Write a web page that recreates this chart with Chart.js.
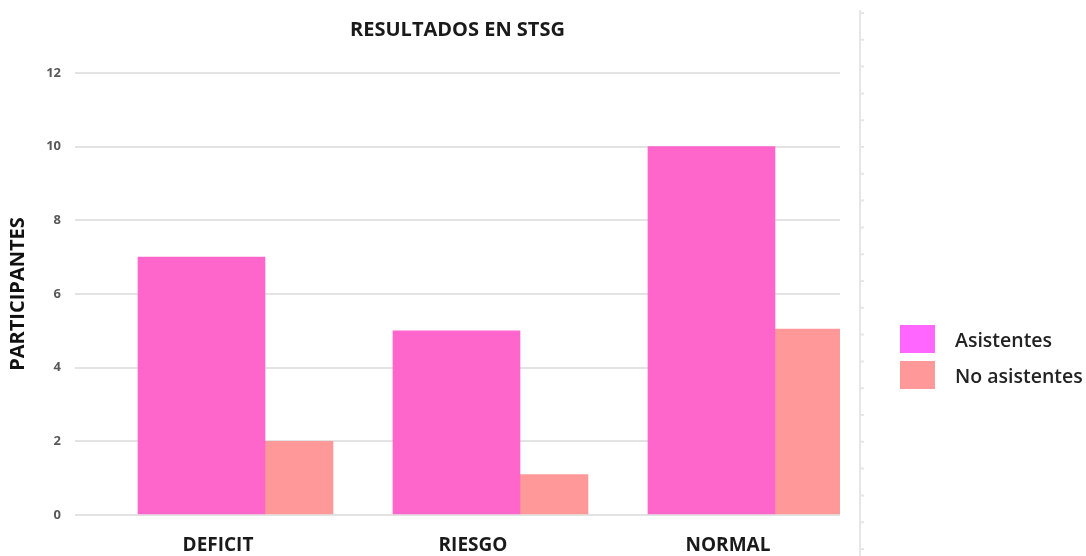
<!DOCTYPE html>
<html>
<head>
<meta charset="utf-8">
<script src="https://cdn.jsdelivr.net/npm/chart.js@4/dist/chart.umd.min.js"></script>
<style>
  body { margin: 0; background: #fff; }
  #wrap { position: relative; width: 1086px; height: 556px; }
  .legend { position: absolute; left: 900px; top: 325px; font-family: 'Open Sans', sans-serif; font-size: 19.5px; font-weight: 600; color: #222; white-space: nowrap; }
  .legend div { display: flex; align-items: center; height: 28px; margin-bottom: 8px; }
  .legend span.box { display: inline-block; flex: none; width: 35px; height: 28px; margin-right: 20px; }
</style>
</head>
<body>
<div id="wrap">
  <canvas id="chart"></canvas>
  <div class="legend" id="legend"></div>
</div>
<script>
// chart data
const categories = ['DEFICIT', 'RIESGO', 'NORMAL'];
const asistentes = [7, 5, 10];
const noAsistentes = [2, 1.1, 5.05];
const yTicks = [0, 2, 4, 6, 8, 10, 12];

const seriesNames = ['Asistentes', 'No asistentes'];
const barColors = ['#FF66CC', '#FF9999'];
const legendColors = ['#FF66FF', '#FF9999'];

// faint ruler line to the right of the plot
const rulerPlugin = {
  id: 'ruler',
  afterDraw(chart) {
    const ctx = chart.ctx;
    const x = chart.chartArea.right + 20;
    ctx.save();
    ctx.strokeStyle = '#e6e6e6';
    ctx.lineWidth = 2;
    ctx.beginPath();
    ctx.moveTo(x, 10);
    ctx.lineTo(x, chart.height);
    for (let y = 13; y < chart.height; y += 26.8) {
      ctx.moveTo(x, y);
      ctx.lineTo(x + 4, y);
    }
    ctx.stroke();
    ctx.restore();
  }
};

const toPoints = vals => vals.map((v, i) => ({ x: i, y: v }));

new Chart(document.getElementById('chart'), {
  type: 'bar',
  data: {
    datasets: [
      { label: seriesNames[0], data: toPoints(asistentes), backgroundColor: barColors[0], barThickness: 127 },
      { label: seriesNames[1], data: toPoints(noAsistentes), backgroundColor: barColors[1], barThickness: 68 }
    ]
  },
  options: {
    responsive: true,
    maintainAspectRatio: false,
    animation: false,
    layout: { padding: { left: 0, right: 246, top: 0, bottom: 0 } },
    plugins: {
      legend: { display: false },
      tooltip: { enabled: false },
      title: {
        display: true,
        fullSize: false,
        text: 'RESULTADOS EN STSG',
        color: '#1a1a1a',
        font: { family: 'Open Sans', size: 20, weight: 'bold' },
        padding: { top: 18, bottom: 31 }
      }
    },
    scales: {
      x: {
        type: 'linear',
        offset: false,
        min: -0.745,
        max: 2.255,
        grid: { display: false, drawTicks: false, offset: false },
        border: { display: false },
        afterBuildTicks: axis => { axis.ticks = categories.map((c, i) => ({ value: i })); },
        afterFit: axis => { axis.height = 41; },
        ticks: {
          callback: v => categories[v],
          labelOffset: -47,
          padding: 19,
          color: '#1a1a1a',
          font: { family: 'Open Sans', size: 19, weight: 'bold' }
        }
      },
      y: {
        min: 0,
        max: 12,
        afterBuildTicks: axis => { axis.ticks = yTicks.map(v => ({ value: v })); },
        afterFit: axis => { axis.width = 75; },
        grid: { color: '#e3e3e3', lineWidth: 2, drawTicks: false },
        border: { display: false },
        ticks: {
          padding: 14,
          color: '#595959',
          font: { family: 'Open Sans', size: 13, weight: 'bold' }
        },
        title: {
          display: true,
          text: 'PARTICIPANTES',
          color: '#111',
          font: { family: 'Open Sans', size: 20, weight: 'bold' },
          padding: { top: 6, bottom: 0 }
        }
      }
    }
  },
  plugins: [rulerPlugin]
});

// legend built from the series names
const legendEl = document.getElementById('legend');
seriesNames.forEach((name, i) => {
  const row = document.createElement('div');
  const box = document.createElement('span');
  box.className = 'box';
  box.style.background = legendColors[i];
  row.appendChild(box);
  row.appendChild(document.createTextNode(name));
  legendEl.appendChild(row);
});
</script>
</body>
</html>
